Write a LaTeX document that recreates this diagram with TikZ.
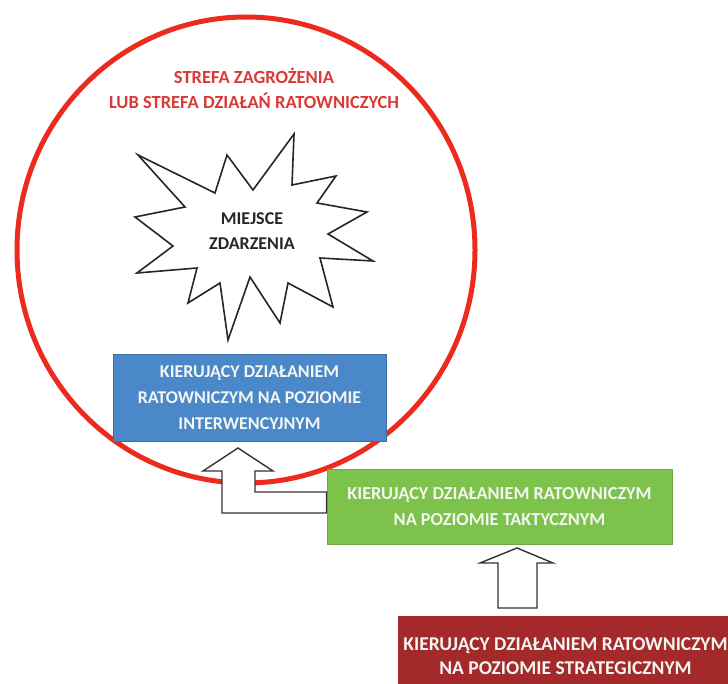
\documentclass[tikz,border=0pt]{standalone}
\usepackage{fontspec}
\setmainfont{Carlito}
\definecolor{ringred}{HTML}{EC2B1E}
\definecolor{titlered}{HTML}{DA3A35}
\definecolor{boxblue}{HTML}{4A88C9}
\definecolor{boxblueline}{HTML}{3C6E9F}
\definecolor{boxgreen}{HTML}{7DC24A}
\definecolor{boxgreenline}{HTML}{6FA843}
\definecolor{boxred}{HTML}{A3292B}
\definecolor{textwhite}{HTML}{F4F6F2}
\begin{document}
\begin{tikzpicture}[x=1pt,y=-1pt,
  lvlbox/.style={draw, line width=1pt, inner sep=0pt, align=center, text=textwhite,
    font=\bfseries},
  blockarrow/.style={draw=black!80, line width=1.4pt, fill=white, line join=miter}]
\useasboundingbox[fill=white] (0,0) rectangle (728,684);
% zone circle
\draw[ringred, line width=5pt] (246,250) ellipse [x radius=229, y radius=233];
\node[text=titlered, font=\bfseries\fontsize{18.5}{25}\selectfont, align=center] (zone) at (254,88)
  {STREFA ZAGROŻENIA\\LUB STREFA DZIAŁAŃ RATOWNICZYCH};
% starburst
\draw[black!85, line width=1.6pt, fill=white, line join=miter]
  (138,155) -- (215,193) -- (227,155) -- (253,190) -- (294,134) -- (292,185) --
  (336,176) -- (317,203) -- (367,212) -- (328,234) -- (373,261) -- (320,258) --
  (333,307) -- (288,283) -- (280,323) -- (250,277) -- (228,340) -- (220,283) --
  (188,303) -- (197,268) -- (137,273) -- (173,246) -- (135,217) -- (185,207) -- cycle;
\node[font=\bfseries\fontsize{18}{25}\selectfont, align=center, text=black!85] (place) at (252,231)
  {MIEJSCE\\ZDARZENIA};
% blue box
\node[lvlbox, draw=boxblueline, fill=boxblue, minimum width=273pt, minimum height=87pt,
  font=\bfseries\fontsize{18}{26}\selectfont] (interv) at (249.5,398)
  {KIERUJĄCY DZIAŁANIEM\\RATOWNICZYM NA POZIOMIE\\INTERWENCYJNYM};
% green box
\node[lvlbox, draw=boxgreenline, fill=boxgreen, minimum width=345pt, minimum height=75pt,
  font=\bfseries\fontsize{18.3}{26}\selectfont] (tact) at (499.5,506.5)
  {KIERUJĄCY DZIAŁANIEM RATOWNICZYM\\NA POZIOMIE TAKTYCZNYM};
% red box
\node[lvlbox, draw=boxred, fill=boxred, minimum width=335pt, minimum height=80pt,
  font=\bfseries\fontsize{19.5}{24}\selectfont] (strat) at (565.5,656)
  {KIERUJĄCY DZIAŁANIEM RATOWNICZYM\\NA POZIOMIE STRATEGICZNYM};
% bent block arrow: tactical -> intervention
\draw[blockarrow] (238,448) -- (273,471) -- (255,471) -- (255,492) -- (tact.west |- 0,492)
  -- (tact.west |- 0,513) -- (222,513) -- (222,471) -- (203,471) -- cycle;
% straight block arrow: strategic -> tactical
\draw[blockarrow] (517,548) -- (553,563) -- (537,563) -- (537,608) -- (498,608)
  -- (498,563) -- (480,563) -- cycle;
\end{tikzpicture}
\end{document}
